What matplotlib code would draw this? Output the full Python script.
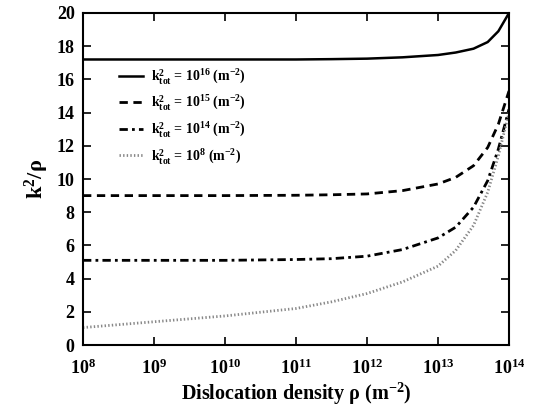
import numpy as np
import matplotlib
matplotlib.use("Agg")
import matplotlib.pyplot as plt
from matplotlib.ticker import FixedLocator, NullLocator

plt.rcParams['font.family'] = ['Liberation Serif', 'DejaVu Serif']
plt.rcParams['font.weight'] = 'bold'
plt.rcParams['mathtext.fontset'] = 'custom'
plt.rcParams['mathtext.rm'] = 'Liberation Serif:bold'
plt.rcParams['mathtext.it'] = 'Liberation Serif:bold'
plt.rcParams['mathtext.bf'] = 'Liberation Serif:bold'
plt.rcParams['mathtext.default'] = 'bf'

# log10 of dislocation density
log_rho = [8, 9, 10, 11, 11.5, 12, 12.5, 13, 13.25, 13.5, 13.7, 13.85, 14]
k16 = [17.2, 17.2, 17.2, 17.2, 17.22, 17.25, 17.33, 17.47, 17.62, 17.85, 18.25, 18.9, 20.0]
k15 = [9.0, 9.0, 9.0, 9.02, 9.05, 9.1, 9.3, 9.7, 10.1, 10.8, 11.9, 13.3, 15.3]
k14 = [5.1, 5.1, 5.1, 5.15, 5.2, 5.35, 5.75, 6.45, 7.1, 8.3, 9.9, 11.8, 14.2]
k8 = [1.05, 1.4, 1.75, 2.2, 2.6, 3.1, 3.8, 4.75, 5.7, 7.2, 9.2, 11.4, 14.0]

labels = [r'k$^{2}_{\mathbf{tot}}$ = 10$^{16}$ (m$^{-2}$)',
          r'k$^{2}_{\mathbf{tot}}$ = 10$^{15}$ (m$^{-2}$)',
          r'k$^{2}_{\mathbf{tot}}$ = 10$^{14}$ (m$^{-2}$)',
          r'k$^{2}_{\mathbf{tot}}$ = 10$^{8}$ (m$^{-2}$)']
xtick_exp = [8, 9, 10, 11, 12, 13, 14]

fig = plt.figure(figsize=(5.33, 4.11), dpi=100)
ax = fig.add_axes([83/533, 1-345/411, (509-83)/533, (345-13)/411])

x = np.power(10.0, log_rho)
ax.plot(x, k16, color='black', lw=1.8, ls='-', label=labels[0])
ax.plot(x, k15, color='black', lw=2.0, ls=(0, (3, 2)), label=labels[1])
ax.plot(x, k14, color='black', lw=2.0, ls=(0, (3, 1.5, 1, 1.5)), label=labels[2])
ax.plot(x, k8, color='#888888', lw=2.0, ls=(0, (0.5, 0.8)), label=labels[3])

ax.set_xscale('log')
ax.set_xlim(1e8, 1e14)
ax.set_ylim(0, 20)
ax.xaxis.set_major_locator(FixedLocator([10.0 ** e for e in xtick_exp]))
ax.xaxis.set_minor_locator(NullLocator())
ax.set_xticklabels([r'10$^{%d}$' % e for e in xtick_exp])
ax.set_yticks(range(0, 21, 2))
ax.tick_params(direction='in', length=6, width=1.2, top=True, right=True, labelsize=13)
ax.tick_params(axis='x', pad=10)
ax.tick_params(axis='y', pad=6)
for s in ax.spines.values():
    s.set_linewidth(1.5)

ax.set_xlabel(r'Dislocation density ρ (m$^{-2}$)', fontsize=14.5, fontweight='bold', labelpad=2)
ax.set_ylabel(r'k$^{2}$/ρ', fontsize=16, fontweight='bold', labelpad=4)

leg = ax.legend(loc='upper left', bbox_to_anchor=(0.055, 0.875), frameon=False,
                fontsize=10, handlelength=1.7, labelspacing=0.55, handletextpad=0.6)

fig.savefig('out.png', dpi=100)
